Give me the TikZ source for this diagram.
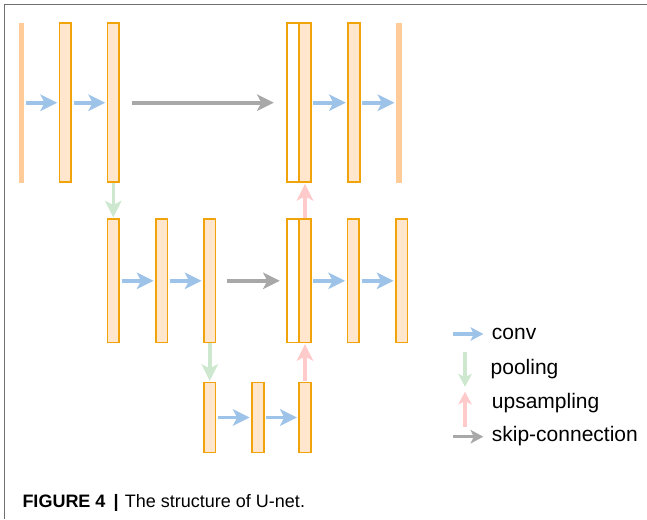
\documentclass[tikz,border=0pt]{standalone}
\usepackage{fontspec}
\setmainfont{Liberation Sans}
\usetikzlibrary{arrows.meta}
\definecolor{boxline}{HTML}{F0A30A}
\definecolor{boxfill}{HTML}{FFE6CC}
\definecolor{barfill}{HTML}{FFCC99}
\definecolor{convc}{HTML}{9DC3E8}
\definecolor{poolc}{HTML}{CDE8CF}
\definecolor{upc}{HTML}{FFCACA}
\definecolor{skipc}{HTML}{A8A8A8}
\definecolor{framec}{HTML}{707070}
\tikzset{
  layer/.style={draw=boxline, fill=boxfill, line width=1.7pt, minimum width=11.7pt, inner sep=0pt},
  half/.style={layer, fill=white},
  edgebar/.style={fill=barfill, draw=none, minimum width=5pt, minimum height=160pt, inner sep=0pt},
  tall/.style={minimum height=159.2pt},
  midh/.style={minimum height=123.3pt},
  lowh/.style={minimum height=69.9pt},
  flow/.style={line width=3.6pt, -{Stealth[length=17pt, width=17pt, inset=4.5pt, line width=0pt]},
               shorten <=1.5pt, shorten >=1.5pt},
  conv/.style={flow, draw=convc},
  pool/.style={flow, draw=poolc, shorten <=0pt, shorten >=0.8pt},
  upsamp/.style={flow, draw=upc, shorten <=0.8pt, shorten >=0.8pt},
  skip/.style={flow, draw=skipc},
  legarrow/.style={line width=3.2pt, -{Stealth[length=13pt, width=14pt, inset=3.5pt, line width=0pt]}},
  legtext/.style={anchor=base west, inner sep=0pt, font=\fontsize{21}{25}\selectfont}
}
\begin{document}
\begin{tikzpicture}[x=1pt, y=-1pt]
\useasboundingbox (0,0) rectangle (647,519);
% frame lines on top and left
\draw[framec, line width=1.5pt] (4.5,519) -- (4.5,4.5) -- (647,4.5);

% top level
\node[edgebar] (t0) at (21.8,102.7) {};
\node[layer,tall] (t1) at (65.3,102.7) {};
\node[layer,tall] (t2) at (113.3,102.7) {};
\node[half,tall] (t3a) at (293,102.7) {};
\node[layer,tall] (t3b) at (305,102.7) {};
\node[layer,tall] (t4) at (354,102.7) {};
\node[edgebar, minimum width=5.5pt] (t5) at (398.8,102.7) {};

% middle level
\node[layer,midh] (m1) at (113.3,280.8) {};
\node[layer,midh] (m2) at (161.7,280.8) {};
\node[layer,midh] (m3) at (209.7,280.8) {};
\node[half,midh] (m4a) at (293,280.8) {};
\node[layer,midh] (m4b) at (305,280.8) {};
\node[layer,midh] (m5) at (353.3,280.8) {};
\node[layer,midh] (m6) at (401.7,280.8) {};

% bottom level
\node[layer,lowh] (b1) at (209.7,417.5) {};
\node[layer,lowh] (b2) at (257.8,417.5) {};
\node[layer,lowh] (b3) at (305,417.5) {};

% convolutions
\draw[conv] (t0) -- (t1);
\draw[conv] (t1) -- (t2);
\draw[conv] (t3b) -- (t4);
\draw[conv] (t4) -- (t5);
\draw[conv] (m1) -- (m2);
\draw[conv] (m2) -- (m3);
\draw[conv] (m4b) -- (m5);
\draw[conv] (m5) -- (m6);
\draw[conv] (b1) -- (b2);
\draw[conv] (b2) -- (b3);

% skip connections
\draw[skip, shorten <=12pt, shorten >=12.5pt] (t2) -- (t3a);
\draw[skip, shorten <=10.5pt, shorten >=6.5pt] (m3) -- (m4a);

% pooling and upsampling
\draw[pool] (t2.south) -- (m1.north);
\draw[pool] (m3.south) -- (b1.north);
\draw[upsamp] (b3.north) -- (m4b.south);
\draw[upsamp] (m4b.north) -- (t3b.south);

% legend
\coordinate (lc1) at (452.7,334);   \coordinate (lc2) at (483.3,334);
\coordinate (lp1) at (465,351.7);   \coordinate (lp2) at (465,386.7);
\coordinate (lu1) at (465,426.7);   \coordinate (lu2) at (465,391.7);
\coordinate (ls1) at (452.7,436.7); \coordinate (ls2) at (483.3,436.7);
\draw[legarrow, draw=convc] (lc1) -- (lc2);
\draw[legarrow, draw=poolc] (lp1) -- (lp2);
\draw[legarrow, draw=upc] (lu1) -- (lu2);
\draw[legarrow, draw=skipc] (ls1) -- (ls2);
\node[legtext] (lct) at (491.7,339) {conv};
\node[legtext] (lpt) at (490.5,374.5) {pooling};
\node[legtext] (lut) at (491.7,408.5) {upsampling};
\node[legtext] (lst) at (491.7,441.5) {skip-connection};

% caption
\node[anchor=base west, inner sep=0pt, font=\fontsize{18}{22}\selectfont] (cap) at (22.3,507.3)
  {\textbf{FIGURE 4\hspace{0.45em}|}\hspace{0.35em}The structure of U-net.};
\end{tikzpicture}
\end{document}
